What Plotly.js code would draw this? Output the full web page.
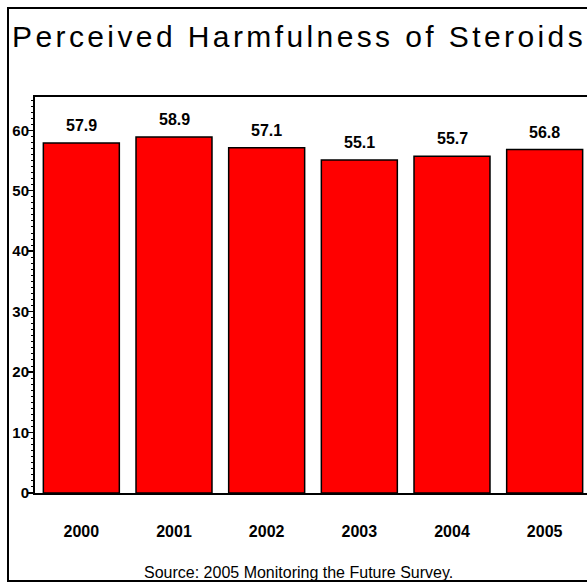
<!DOCTYPE html>
<html>
<head>
<meta charset="utf-8">
<script src="https://cdn.plot.ly/plotly-3.0.1.min.js"></script>
<style>
html, body { margin: 0; padding: 0; overflow: hidden; background: #fff; }
#chart { width: 600px; height: 583px; }
.gtitle { letter-spacing: 3.4px; }
</style>
</head>
<body>
<div id="chart"></div>
<script>
var years = ['2000', '2001', '2002', '2003', '2004', '2005'];
var percents = [57.9, 58.9, 57.1, 55.1, 55.7, 56.8];
var titleText = 'Perceived Harmfulness of Steroids';
var sourceText = 'Source: 2005 Monitoring the Future Survey.';

var small = '"Liberation Sans", Arial, sans-serif';

var trace = {
  type: 'bar',
  x: years,
  y: percents,
  marker: { color: '#ff0000', line: { color: '#000000', width: 1.5 } },
  hoverinfo: 'none'
};

// category axis with numeric-looking names: position annotations by category index
var labelAnns = years.map(function (yr, i) {
  return {
    x: i, y: percents[i], xref: 'x', yref: 'y',
    text: percents[i].toFixed(1),
    showarrow: false, yanchor: 'bottom', yshift: 7,
    font: { family: small, size: 16, color: '#000', weight: 'bold' }
  };
});

labelAnns.push({
  text: sourceText, xref: 'paper', yref: 'paper',
  x: (298 - 35) / 556, y: (493 - 583) / 396,
  xanchor: 'center', yanchor: 'bottom', showarrow: false,
  font: { family: small, size: 16, color: '#000' }
});

var layout = {
  width: 600, height: 583,
  margin: { l: 35, r: 9, t: 97, b: 90 },
  paper_bgcolor: '#fff', plot_bgcolor: '#fff',
  showlegend: false,
  bargap: 0.18,
  title: {
    text: titleText,
    xref: 'container', yref: 'container',
    x: 12 / 600, xanchor: 'left',
    y: 1 - 26 / 583, yanchor: 'top',
    font: { family: '"Liberation Sans", Arial, sans-serif', size: 30, color: '#000' }
  },
  xaxis: {
    type: 'category',
    range: [-0.5, 5.5],
    showline: true, linecolor: '#000', linewidth: 2,
    mirror: true,
    ticks: '', showgrid: false, zeroline: false,
    ticklabelstandoff: 23,
    tickfont: { family: small, size: 16, color: '#000', weight: 'bold' }
  },
  yaxis: {
    range: [0, 65.5],
    dtick: 10, tick0: 0,
    showline: true, linecolor: '#000', linewidth: 2,
    mirror: true,
    ticks: 'outside', ticklen: 5, tickwidth: 1.5, tickcolor: '#000',
    minor: { dtick: 1, ticks: 'outside', ticklen: 2.5, tickwidth: 1, tickcolor: '#000', showgrid: false },
    showgrid: false, zeroline: false,
    ticklabelstandoff: -4,
    tickfont: { family: small, size: 15, color: '#000', weight: 'bold' }
  },
  annotations: labelAnns,
  shapes: [{
    type: 'rect', xref: 'paper', yref: 'paper',
    x0: (8 - 35) / 556, x1: (598 - 35) / 556,
    y0: (493 - 581) / 396, y1: (493 - 8) / 396,
    line: { color: '#000', width: 2 }, fillcolor: 'rgba(0,0,0,0)', layer: 'below'
  }]
};

Plotly.newPlot('chart', [trace], layout, { staticPlot: true, displayModeBar: false });
</script>
</body>
</html>
